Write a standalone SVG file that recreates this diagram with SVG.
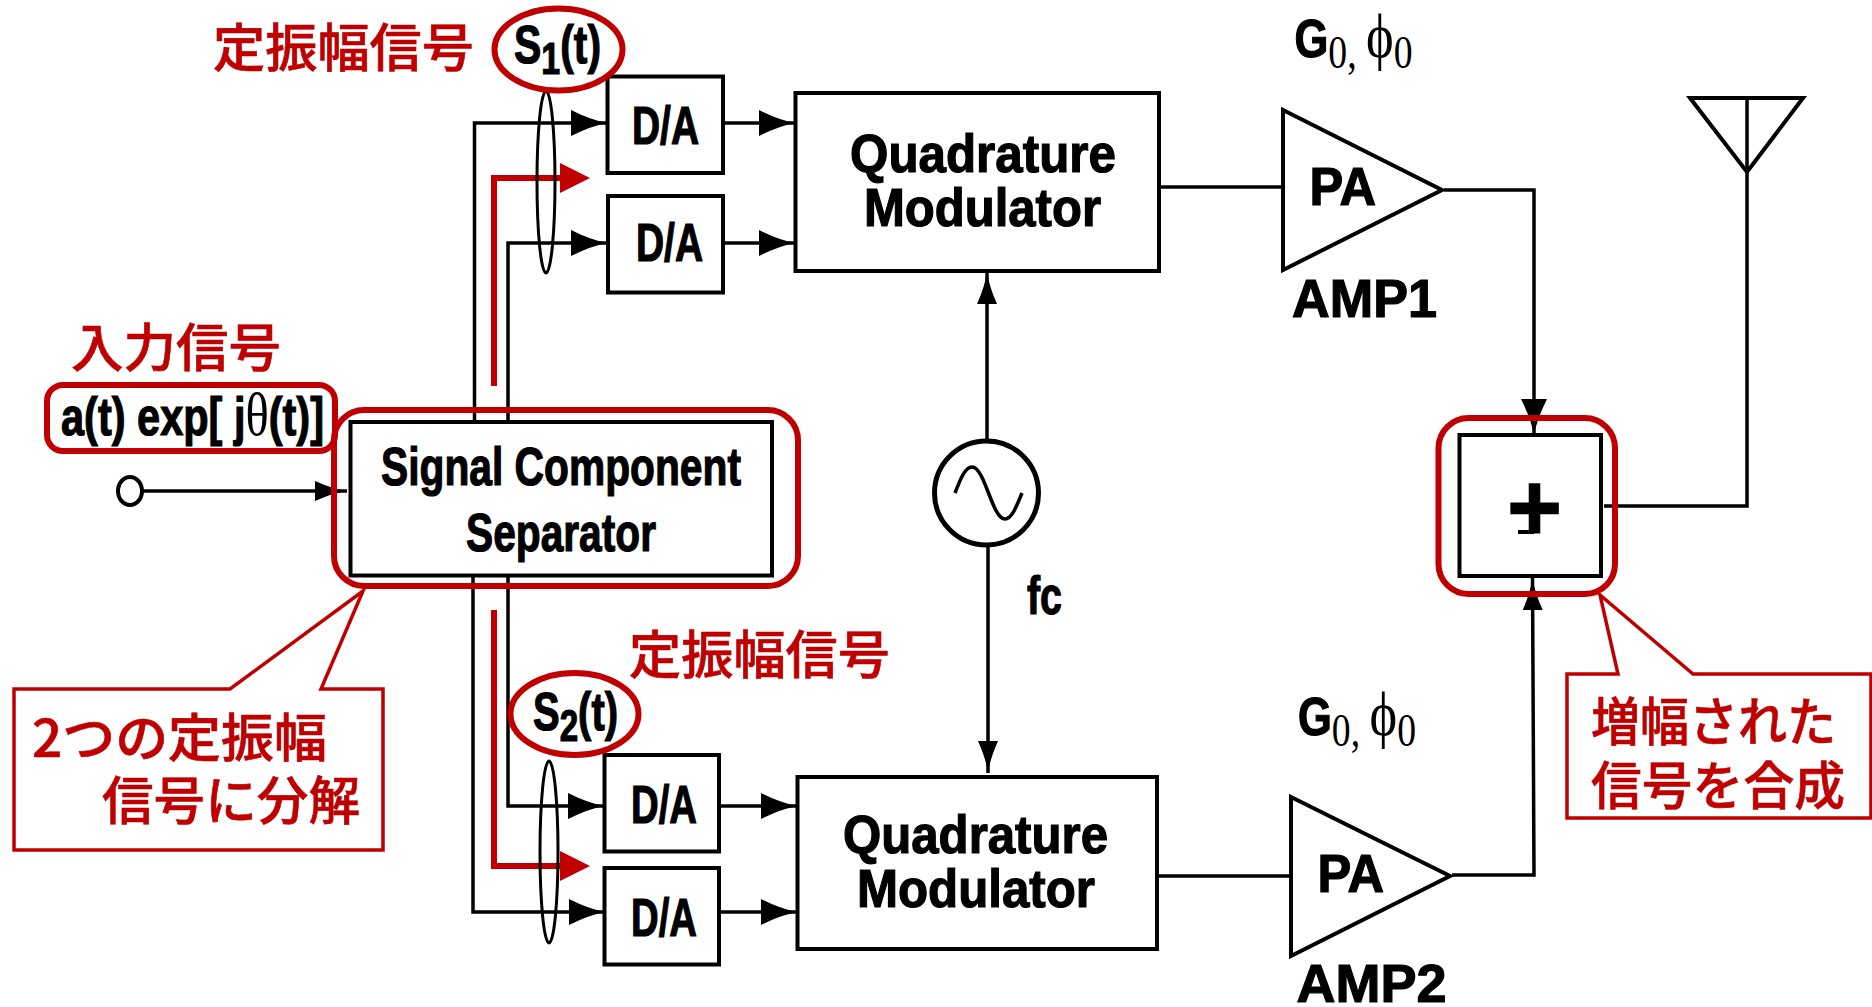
<svg xmlns="http://www.w3.org/2000/svg" width="1872" height="1007" viewBox="0 0 1872 1007">
<defs>
<style>
.b{fill:#fff;stroke:#000;stroke-width:4}
.w{fill:none;stroke:#000;stroke-width:3.5}
.rw{fill:none;stroke:#c00000;stroke-width:6}
.rr{fill:none;stroke:#c00000;stroke-width:6}
.co{fill:#fff;stroke:#c00000;stroke-width:3.5}
.e{fill:none;stroke:#000;stroke-width:3}
text{font-family:"Liberation Sans",Arial,sans-serif;font-weight:700;font-size:53px;fill:#000;stroke:#000;stroke-width:1.2}
.s{font-family:"Liberation Serif",serif;font-weight:400;font-size:46px;stroke:none}
.j{font-family:"Noto Sans CJK JP",sans-serif;font-weight:500;font-size:52px;fill:#c00000;stroke:#c00000;stroke-width:.6}
</style>
<marker id="a" markerUnits="userSpaceOnUse" markerWidth="36" markerHeight="26" refX="36" refY="13" orient="auto"><path d="M0,0Q20 10 36,13Q20 16 0,26z" fill="#000"/></marker>
<marker id="av" markerUnits="userSpaceOnUse" markerWidth="32" markerHeight="20" refX="32" refY="10" orient="auto"><path d="M0,0Q18 8 32,10Q18 12 0,20z" fill="#000"/></marker>
<marker id="r" markerUnits="userSpaceOnUse" markerWidth="30" markerHeight="30" refX="0" refY="15" orient="auto"><path d="M0,0L30,15L0,30z" fill="#c00000"/></marker>
</defs>
<g id="connectors">
<path class="w" d="M474.500 420V123H607" marker-end="url(#a)"/>
<path class="w" d="M508 422V243H607" marker-end="url(#a)"/>
<path class="w" d="M723 123H795" marker-end="url(#a)"/>
<path class="w" d="M723 243H795" marker-end="url(#a)"/>
<path class="w" d="M473 576V912H605" marker-end="url(#a)"/>
<path class="w" d="M508 576V806H604" marker-end="url(#a)"/>
<path class="w" d="M719 806H797" marker-end="url(#a)"/>
<path class="w" d="M719 912H797" marker-end="url(#a)"/>
<path class="w" d="M142 491H347" marker-end="url(#av)"/>
<path class="w" d="M1159 187H1282"/>
<path class="w" d="M1157 876H1290"/>
<path class="w" d="M1444 190H1534V435" marker-end="url(#a)"/>
<path class="w" d="M1452 875H1534L1532.500 578" marker-end="url(#av)"/>
<path class="w" d="M1604 506H1747V98"/>
<path class="w" d="M987 441V272" marker-end="url(#av)"/>
<path class="w" d="M988 545V773" marker-end="url(#av)"/>
<path class="rw" d="M494 386V178H560" marker-end="url(#r)"/>
<path class="rw" d="M494 610V866H560" marker-end="url(#r)"/>
</g>
<g id="ellipse-s1-bus"><ellipse class="e" cx="546" cy="182" rx="9" ry="91"/></g>
<g id="ellipse-s2-bus"><ellipse class="e" cx="549" cy="852" rx="9" ry="91"/></g>
<g id="da1"><rect class="b" x="607.500" y="76.500" width="115.500" height="96.500"/><text x="632" y="144" textLength="67" lengthAdjust="spacingAndGlyphs">D/A</text></g>
<g id="da2"><rect class="b" x="608" y="196" width="115" height="96.500"/><text x="636" y="261" textLength="67" lengthAdjust="spacingAndGlyphs">D/A</text></g>
<g id="da3"><rect class="b" x="604.500" y="755" width="114.500" height="96.500"/><text x="631" y="823" textLength="66" lengthAdjust="spacingAndGlyphs">D/A</text></g>
<g id="da4"><rect class="b" x="604.500" y="868" width="114.500" height="96.500"/><text x="631" y="936" textLength="66" lengthAdjust="spacingAndGlyphs">D/A</text></g>
<g id="qm1"><rect class="b" x="795.500" y="93" width="363.500" height="178"/><text x="850" y="172" textLength="266" lengthAdjust="spacingAndGlyphs">Quadrature</text><text x="864" y="226" textLength="237" lengthAdjust="spacingAndGlyphs">Modulator</text></g>
<g id="qm2"><rect class="b" x="797.500" y="777" width="359.500" height="172"/><text x="843" y="853" textLength="265" lengthAdjust="spacingAndGlyphs">Quadrature</text><text x="857" y="907" textLength="238" lengthAdjust="spacingAndGlyphs">Modulator</text></g>
<g id="separator"><rect class="b" x="350.500" y="422" width="421.500" height="153.500"/><text x="381" y="485" textLength="360" lengthAdjust="spacingAndGlyphs">Signal Component</text><text x="466" y="551" textLength="190" lengthAdjust="spacingAndGlyphs">Separator</text></g>
<g id="separator-highlight"><rect class="rr" x="334" y="410" width="464" height="176" rx="30"/></g>
<g id="input-terminal"><ellipse cx="130" cy="491" rx="12" ry="14" fill="#fff" stroke="#000" stroke-width="4"/></g>
<g id="input-label"><rect class="rr" x="47" y="385" width="288" height="66" rx="16"/><text x="61" y="435" textLength="263" lengthAdjust="spacingAndGlyphs">a(t) exp[ j<tspan class="s" style="font-size:62px">θ</tspan>(t)]</text></g>
<g id="input-title"><text class="j" x="71" y="367" textLength="210" lengthAdjust="spacingAndGlyphs">入力信号</text></g>
<g id="s1-label"><text class="j" x="213" y="67" textLength="261" lengthAdjust="spacingAndGlyphs">定振幅信号</text><ellipse class="rr" cx="558.500" cy="49.500" rx="64" ry="41"/><text x="514" y="63" textLength="87" lengthAdjust="spacingAndGlyphs">S<tspan dy="11" style="font-size:44px">1</tspan><tspan dy="-11">(t)</tspan></text></g>
<g id="s2-label"><text class="j" x="629" y="674" textLength="261" lengthAdjust="spacingAndGlyphs">定振幅信号</text><ellipse class="rr" cx="574.500" cy="714" rx="64" ry="41"/><text x="533" y="730" textLength="85" lengthAdjust="spacingAndGlyphs">S<tspan dy="11" style="font-size:44px">2</tspan><tspan dy="-11">(t)</tspan></text></g>
<g id="callout-split"><path class="co" d="M14 689H230L363 591L321 689H383V850H14z"/><text class="j" x="32" y="757" textLength="295" lengthAdjust="spacingAndGlyphs">2つの定振幅</text><text class="j" x="102" y="820" textLength="258" lengthAdjust="spacingAndGlyphs">信号に分解</text></g>
<g id="callout-sum"><path class="co" d="M1567 674H1618L1600 595L1693 674H1871V818H1567z"/><text class="j" x="1591" y="741" textLength="245" lengthAdjust="spacingAndGlyphs">増幅された</text><text class="j" x="1591" y="805" textLength="254" lengthAdjust="spacingAndGlyphs">信号を合成</text></g>
<g id="oscillator"><circle cx="986.500" cy="493" r="52" fill="#fff" stroke="#000" stroke-width="5"/><path class="w" d="M955 493C960 480 965 467 972 467C985 467 992 519 1005 519C1012 519 1017 505 1022 493"/></g>
<g id="fc"><text x="1027" y="614" textLength="35" lengthAdjust="spacingAndGlyphs">fc</text></g>
<g id="amp1"><path class="b" d="M1283 110L1442 190L1283 270z"/><text x="1309.500" y="205" textLength="66.500" lengthAdjust="spacingAndGlyphs">PA</text><text x="1292" y="317" textLength="145" lengthAdjust="spacingAndGlyphs">AMP1</text></g>
<g id="amp2"><path class="b" d="M1291 797L1450 876L1291 956z"/><text x="1317.500" y="892" textLength="66.500" lengthAdjust="spacingAndGlyphs">PA</text><text x="1296.500" y="1002" textLength="150" lengthAdjust="spacingAndGlyphs">AMP2</text></g>
<g id="g1"><text x="1294.500" y="57" textLength="118" lengthAdjust="spacingAndGlyphs">G<tspan class="s" dy="11">0, </tspan><tspan class="s" dy="-11" style="font-size:64px">ϕ</tspan><tspan class="s" dy="11">0</tspan></text></g>
<g id="g2"><text x="1298" y="735" textLength="118" lengthAdjust="spacingAndGlyphs">G<tspan class="s" dy="11">0, </tspan><tspan class="s" dy="-11" style="font-size:64px">ϕ</tspan><tspan class="s" dy="11">0</tspan></text></g>
<g id="summer"><rect class="b" x="1459.500" y="435" width="141.500" height="141"/><text x="1507" y="541" textLength="55" lengthAdjust="spacingAndGlyphs" style="font-size:96px">+</text><path d="M1518 532H1534" stroke="#000" stroke-width="4"/></g>
<g id="summer-highlight"><rect class="rr" x="1438.500" y="418" width="176.500" height="176" rx="30"/></g>
<g id="antenna"><path class="w" style="stroke-width:4" d="M1690 98H1803L1747 172z"/></g>
</svg>
